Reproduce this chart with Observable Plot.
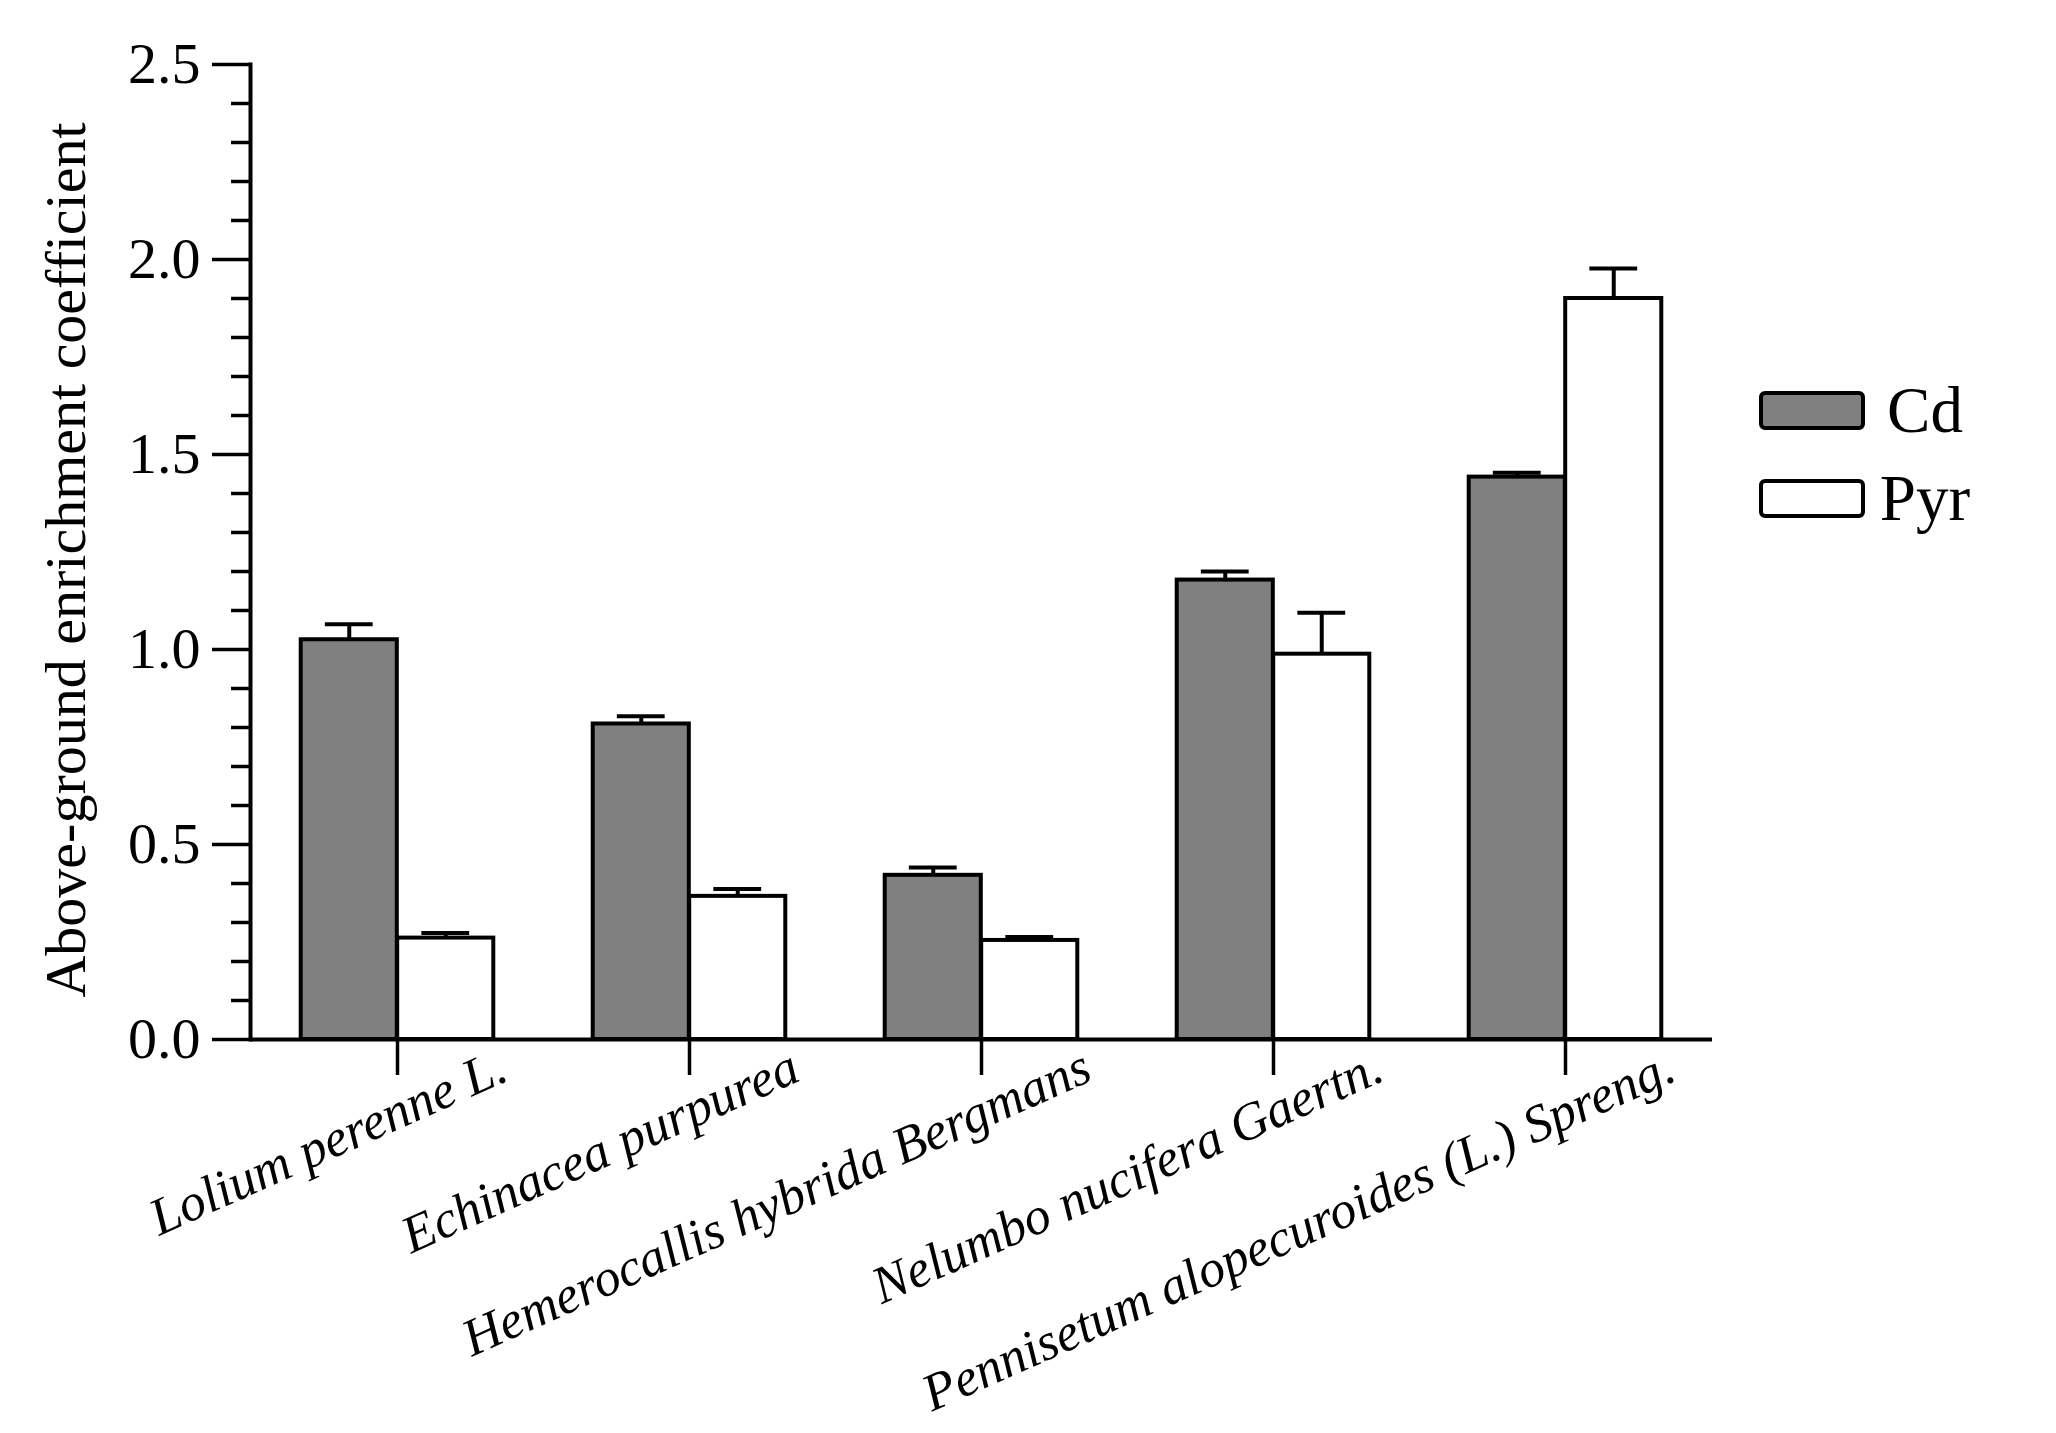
<!DOCTYPE html>
<html><head><meta charset="utf-8">
<script src="https://cdn.jsdelivr.net/npm/d3@7"></script>
<script src="https://cdn.jsdelivr.net/npm/@observablehq/plot@0.6"></script>
<style>
html,body{margin:0;padding:0;background:#fff;}
#chart{position:relative;width:2056px;height:1433px;}
</style></head><body><div id="chart"></div>
<script>
const categories = ["Lolium perenne L.", "Echinacea purpurea", "Hemerocallis hybrida Bergmans", "Nelumbo nucifera Gaertn.", "Pennisetum alopecuroides (L.) Spreng."];
const seriesNames = ["Cd", "Pyr"];
const cdValues = [1.025, 0.809, 0.421, 1.178, 1.442];
const cdErrors = [0.040, 0.020, 0.020, 0.022, 0.011];
const pyrValues = [0.260, 0.367, 0.254, 0.988, 1.900];
const pyrErrors = [0.013, 0.019, 0.009, 0.106, 0.077];
const seriesFills = ["#808080", "#ffffff"];
const yTicksMajor = [0, 0.5, 1.0, 1.5, 2.0, 2.5];
const yTicksMinor = [0.1, 0.2, 0.3, 0.4, 0.6, 0.7, 0.8, 0.9, 1.1, 1.2, 1.3, 1.4, 1.6, 1.7, 1.8, 1.9, 2.1, 2.2, 2.3, 2.4];
const yTitle = "Above-ground enrichment coefficient";

const cdRows = categories.map((c, i) => ({category: c, series: seriesNames[0], value: cdValues[i], err: cdErrors[i]}));
const pyrRows = categories.map((c, i) => ({category: c, series: seriesNames[1], value: pyrValues[i], err: pyrErrors[i]}));

const W = 2056, H = 1433;
const mL = 250, mR = 344, mT = 64, mB = 394;
const bw = (W - mL - mR) / categories.length;
const barW = bw * 0.33;
const capW = barW * 0.5;
const font = '"Liberation Serif","Times New Roman",Times,serif';
const lw = 4;

const plot = Plot.plot({
  width: W, height: H,
  marginLeft: mL, marginRight: mR, marginTop: mT, marginBottom: mB,
  style: {fontFamily: font, background: "white", color: "black", overflow: "visible"},
  x: {domain: categories, padding: 0, axis: null},
  y: {domain: [0, 2.5], axis: null, label: null},
  marks: [
    Plot.barY(cdRows, {x: "category", y: "value", fill: seriesFills[0], stroke: "black", strokeWidth: lw,
      insetLeft: bw / 2 - barW, insetRight: bw / 2}),
    Plot.barY(pyrRows, {x: "category", y: "value", fill: seriesFills[1], stroke: "black", strokeWidth: lw,
      insetLeft: bw / 2, insetRight: bw / 2 - barW}),
    Plot.ruleX(cdRows, {x: "category", y1: "value", y2: d => d.value + d.err, dx: -barW / 2, stroke: "black", strokeWidth: lw}),
    Plot.ruleX(pyrRows, {x: "category", y1: "value", y2: d => d.value + d.err, dx: barW / 2, stroke: "black", strokeWidth: lw}),
    Plot.tickY(cdRows, {x: "category", y: d => d.value + d.err, stroke: "black", strokeWidth: lw,
      insetLeft: bw / 2 + barW / 2 - capW / 2 - barW, insetRight: bw / 2 + barW / 2 - capW / 2}),
    Plot.tickY(pyrRows, {x: "category", y: d => d.value + d.err, stroke: "black", strokeWidth: lw,
      insetLeft: bw / 2 + barW / 2 - capW / 2, insetRight: bw / 2 + barW / 2 - capW / 2 - barW}),
    Plot.ruleY([0], {stroke: "black", strokeWidth: lw}),
    Plot.frame({anchor: "left", stroke: "black", strokeWidth: lw}),
    Plot.axisY(yTicksMajor, {tickSize: 38, tickPadding: 12, fontSize: 58, strokeWidth: 3.5,
      tickFormat: d3.format(".1f"), label: null}),
    Plot.axisY(yTicksMinor, {tickSize: 19, strokeWidth: 3.5, tickFormat: () => "", label: null}),
    Plot.axisX({tickSize: 36, strokeWidth: 3.5, tickFormat: () => "", label: null}),
    Plot.text(categories, {x: d => d, y: 0, text: d => d, textAnchor: "end", lineAnchor: "bottom",
      rotate: -24, dx: 113, dy: 40, fontSize: 52.5, fontStyle: "italic"}),
    Plot.text([yTitle], {frameAnchor: "left", text: d => d, rotate: -90, textAnchor: "middle", lineAnchor: "bottom",
      dx: -166, dy: 8, fontSize: 58})
  ]
});

document.getElementById("chart").appendChild(plot);

// legend
const svg = d3.select(plot);
const legend = svg.append("g").attr("font-family", font);
const legendRows = [{y: 393}, {y: 481}];
seriesNames.forEach((name, i) => {
  const g = legend.append("g").attr("transform", `translate(1761,${legendRows[i].y})`);
  g.append("rect").attr("width", 102).attr("height", 35).attr("rx", 4)
    .attr("fill", seriesFills[i]).attr("stroke", "black").attr("stroke-width", lw);
  g.append("text").attr("x", 164).attr("y", 39).attr("font-size", 65).attr("fill", "black").text(name);
});
</script></body></html>
